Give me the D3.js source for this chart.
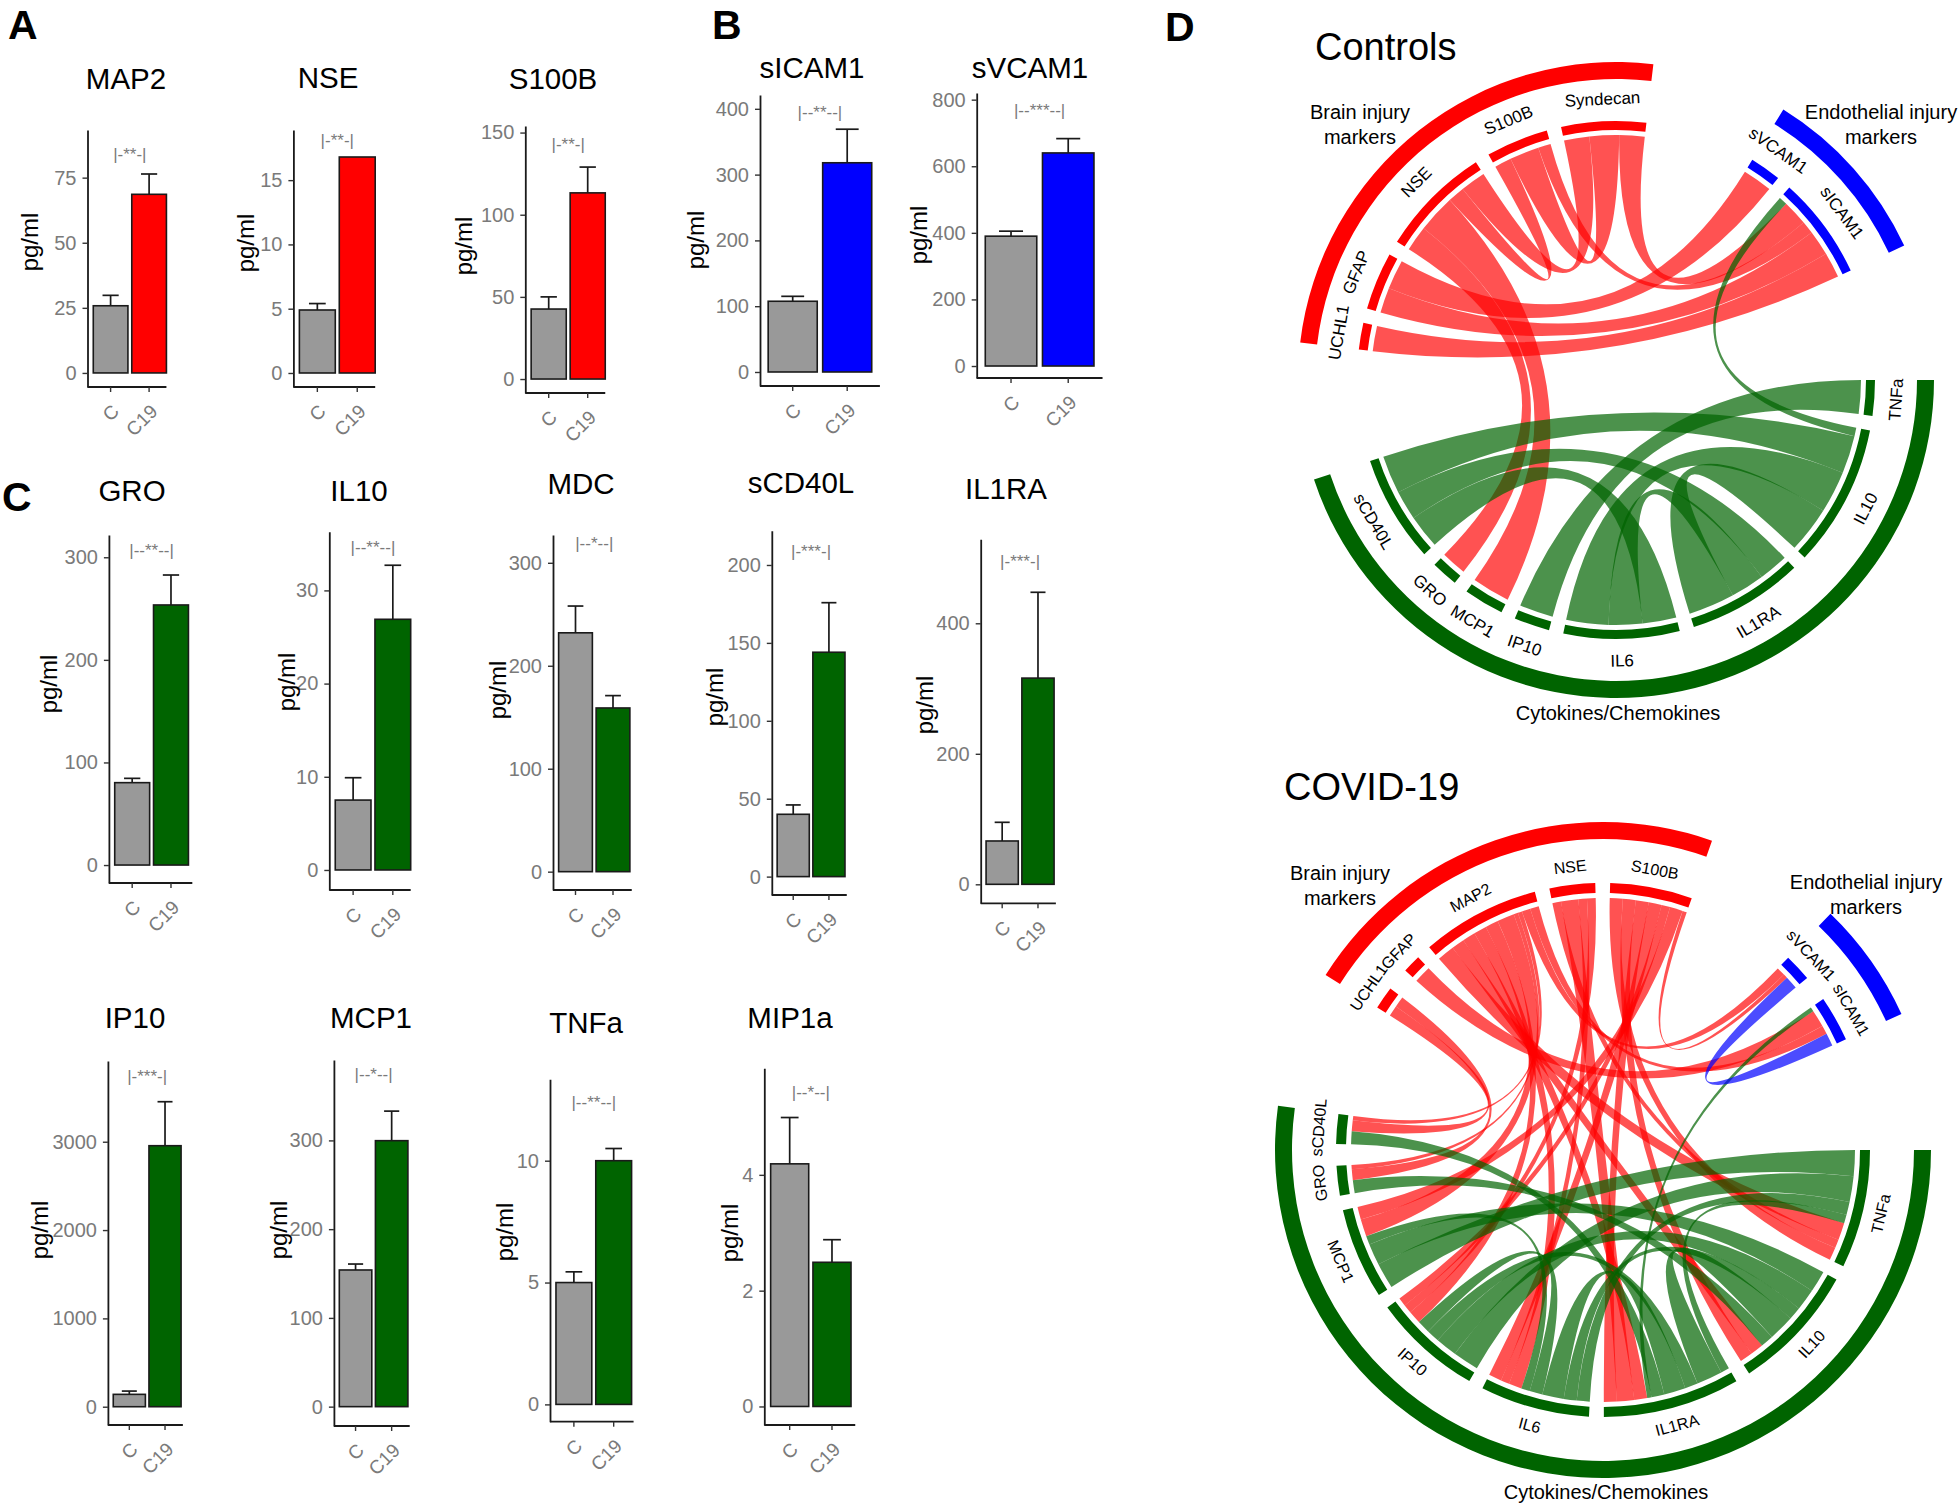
<!DOCTYPE html>
<html>
<head>
<meta charset="utf-8">
<script src="https://cdn.jsdelivr.net/npm/d3@7/dist/d3.min.js"></script>
<style>
  body { margin: 0; background: #fff; }
  svg { display: block; font-family: "Liberation Sans", Arial, Helvetica, sans-serif; }
</style>
</head>
<body>
<svg id="fig" width="1960" height="1507"></svg>
<script>
// ---------- panels A-C : mean pg/ml and top of the error bar ----------
const groups = ["C", "C19"];
const markers = ["MAP2", "NSE", "S100B", "sICAM1", "sVCAM1", "GRO", "IL10", "MDC",
  "sCD40L", "IL1RA", "IP10", "MCP1", "TNFa", "MIP1a"];
const markerType = ["brain", "brain", "brain", "endo", "endo", "cyto", "cyto", "cyto",
  "cyto", "cyto", "cyto", "cyto", "cyto", "cyto"];
const meanC = [25.8, 4.9, 42.6, 107.5, 390, 80.3, 7.5, 232, 40, 66.4, 140, 154, 5.0, 4.19];
const meanC19 = [68.6, 16.8, 113.3, 318, 640, 253.5, 26.9, 159, 144, 316, 2955, 299.7, 10.0, 2.49];
const errTopC = [29.8, 5.4, 50, 115, 405, 84.5, 9.9, 258, 46, 95, 177, 160.7, 5.44, 4.99];
const errTopC19 = [76.4, 16.8, 129, 369, 683, 282.7, 32.7, 171, 175.8, 447.5, 3453, 333, 10.5, 2.88];
const yTicks = [[0, 25, 50, 75], [0, 5, 10, 15], [0, 50, 100, 150], [0, 100, 200, 300, 400],
  [0, 200, 400, 600, 800], [0, 100, 200, 300], [0, 10, 20, 30], [0, 100, 200, 300],
  [0, 50, 100, 150, 200], [0, 200, 400], [0, 1000, 2000, 3000], [0, 100, 200, 300],
  [0, 5, 10], [0, 2, 4]];
const yLow = [-5.4, -1.09, -8.5, -21.3, -36, -17.5, -2.15, -17.8, -11.8, -29.1, -207, -21.8, -0.71, -0.32];
const yHigh = [93.3, 18.9, 154, 421, 820, 321.7, 36.3, 327, 222, 528.7, 3914, 390.6, 13.34, 5.84];
const sigText = ["|-**-|", "|-**-|", "|-**-|", "|--**--|", "|--***--|", "|--**--|", "|--**--|",
  "|--*--|", "|-***-|", "|-***-|", "|-***-|", "|--*--|", "|--**--|", "|--*--|"];
const sigAt = [83.7, 18.1, 143, 395, 768, 307, 34.6, 319, 208.6, 494.5, 3743, 374, 12.4, 5.42];

// ---------- panel D : chord diagrams ----------
const groupNames = ["Cytokines/Chemokines", "Brain injury markers", "Endothelial injury markers"];
const controlsSectors = [
  ["TNFa", "IL10", "IL1RA", "IL6", "IP10", "MCP1", "GRO", "sCD40L"],
  ["UCHL1", "GFAP", "NSE", "S100B", "Syndecan"],
  ["sVCAM1", "sICAM1"]
];
const controlsLinks = [
  ["IL10", "sICAM1", 2], ["sCD40L", "IL6", 8], ["sCD40L", "IL1RA", 7], ["sCD40L", "IL10", 9],
  ["IL6", "IL1RA", 8], ["IL10", "IL6", 10], ["IL10", "IL1RA", 11], ["TNFa", "IP10", 8],
  ["NSE", "GRO", 6], ["NSE", "MCP1", 9], ["NSE", "S100B", 4], ["NSE", "Syndecan", 6],
  ["S100B", "Syndecan", 7], ["Syndecan", "sICAM1", 6], ["S100B", "sICAM1", 3],
  ["GFAP", "sICAM1", 6], ["UCHL1", "sICAM1", 6], ["GFAP", "sVCAM1", 7]
];
const covidSectors = [
  ["TNFa", "IL10", "IL1RA", "IL6", "IP10", "MCP1", "GRO", "sCD40L"],
  ["UCHL1", "GFAP", "MAP2", "NSE", "S100B"],
  ["sVCAM1", "sICAM1"]
];
const covidLinks = [
  ["TNFa", "MCP1", 6], ["TNFa", "IP10", 6], ["TNFa", "IL6", 3], ["TNFa", "IL1RA", 2],
  ["IL10", "MCP1", 5], ["IL10", "IP10", 5], ["IL10", "IL6", 3], ["IL10", "IL1RA", 6],
  ["GRO", "IL10", 3], ["IL1RA", "IP10", 3], ["IL1RA", "IL6", 5],
  ["sCD40L", "IL1RA", 3], ["IL6", "IP10", 3], ["IL6", "MCP1", 2], ["IL1RA", "sICAM1", 1],
  ["UCHL1", "sCD40L", 2.5], ["UCHL1", "GRO", 2.5], ["GFAP", "sICAM1", 4],
  ["MAP2", "TNFa", 4], ["MAP2", "IL10", 3], ["MAP2", "IL1RA", 3], ["MAP2", "IL6", 3],
  ["MAP2", "IP10", 3], ["MAP2", "MCP1", 4], ["MAP2", "GRO", 1], ["MAP2", "sCD40L", 1],
  ["MAP2", "sVCAM1", 2], ["MAP2", "sICAM1", 2],
  ["NSE", "TNFa", 2], ["NSE", "IL1RA", 4], ["NSE", "IL6", 2], ["NSE", "IP10", 2],
  ["S100B", "TNFa", 3], ["S100B", "IL10", 3], ["S100B", "IL1RA", 3], ["S100B", "IL6", 3],
  ["S100B", "IP10", 2], ["S100B", "MCP1", 3], ["S100B", "sVCAM1", 1],
  ["sVCAM1", "sICAM1", 3]
];

// ---------- layout ----------
// axisX/top/bottom: plot box; unit: px per category; tx,ty: title; lx,ly: y-axis title
const panelLayout = [
  { axisX: 87.5, top: 130, bottom: 387, unit: 38.5, end: 2.05, tx: 126, ty: 78, lx: 29.5, ly: 242 },
  { axisX: 293.4, top: 130, bottom: 387, unit: 39.9, end: 2.05, tx: 328, ty: 77, lx: 245, ly: 243 },
  { axisX: 525.3, top: 126, bottom: 393, unit: 39, end: 2.05, tx: 553, ty: 78, lx: 463, ly: 246 },
  { axisX: 760, top: 95, bottom: 386, unit: 54.5, end: 2.2, tx: 812, ty: 67, lx: 695, ly: 240 },
  { axisX: 976.7, top: 93, bottom: 378, unit: 57.2, end: 2.2, tx: 1030, ty: 67, lx: 918.5, ly: 235 },
  { axisX: 108.9, top: 535, bottom: 883, unit: 38.8, end: 2.15, tx: 132, ty: 490, lx: 48, ly: 684 },
  { axisX: 329.3, top: 531.7, bottom: 890, unit: 39.7, end: 2.05, tx: 359, ty: 490, lx: 286.6, ly: 682 },
  { axisX: 553, top: 535, bottom: 890, unit: 37.5, end: 2.1, tx: 581, ty: 483, lx: 497, ly: 690 },
  { axisX: 771.8, top: 530.7, bottom: 895, unit: 35.7, end: 2.1, tx: 801, ty: 482, lx: 714.5, ly: 697 },
  { axisX: 980.7, top: 539.3, bottom: 903.3, unit: 35.8, end: 2.1, tx: 1006, ty: 488, lx: 924, ly: 705 },
  { axisX: 107.9, top: 1061, bottom: 1425, unit: 35.7, end: 2.1, tx: 135, ty: 1017, lx: 39, ly: 1230 },
  { axisX: 333.9, top: 1060, bottom: 1426, unit: 36.1, end: 2.1, tx: 371, ty: 1017, lx: 278.6, ly: 1230 },
  { axisX: 550, top: 1079.3, bottom: 1421.7, unit: 39.8, end: 2.1, tx: 586, ty: 1022, lx: 504.5, ly: 1232 },
  { axisX: 764.3, top: 1068.3, bottom: 1425, unit: 42.3, end: 2.15, tx: 790, ty: 1017, lx: 729.6, ly: 1233 }
];
const letterLayout = [
  { t: "A", x: 8, y: 39 }, { t: "B", x: 712, y: 39 }, { t: "C", x: 2, y: 511 }, { t: "D", x: 1165, y: 41 }
];
const fillFor = { brain: "#ff0000", endo: "#0000ff", cyto: "#006400" };
const trackColor = ["#006400", "#ff0000", "#0000ff"];
const linkColor = ["rgba(0,100,0,0.70)", "rgba(255,0,0,0.68)", "rgba(0,0,255,0.70)"];
const grey = "#7a7a7a";

const svg = d3.select("#fig");

svg.selectAll("text.letter").data(letterLayout).join("text")
  .attr("class", "letter")
  .attr("x", d => d.x).attr("y", d => d.y)
  .style("font-size", "41px").style("font-weight", "bold")
  .text(d => d.t);

// ---------- bar panels ----------
markers.forEach((name, i) => {
  const lay = panelLayout[i];
  const u = lay.unit;
  const g = svg.append("g");
  const x = d3.scaleBand().domain(groups)
    .range([lay.axisX, lay.axisX + 2.2 * u])
    .paddingInner(0.1).paddingOuter(0.15);
  const y = d3.scaleLinear().domain([yLow[i], yHigh[i]]).range([lay.bottom, lay.top]);
  const means = [meanC[i], meanC19[i]];
  const tops = [errTopC[i], errTopC19[i]];
  const cap = 0.42 * u;

  g.append("text")
    .attr("x", lay.tx).attr("y", lay.ty)
    .attr("text-anchor", "middle").attr("dominant-baseline", "central")
    .style("font-size", "29.5px")
    .text(name);

  // error bars (upper whisker only)
  groups.forEach((grp, j) => {
    if (tops[j] <= means[j]) return;
    const cx = x(grp) + x.bandwidth() / 2;
    g.append("line").attr("x1", cx).attr("x2", cx)
      .attr("y1", y(means[j])).attr("y2", y(tops[j]))
      .attr("stroke", "#1a1a1a").attr("stroke-width", 1.7);
    g.append("line").attr("x1", cx - cap / 2).attr("x2", cx + cap / 2)
      .attr("y1", y(tops[j])).attr("y2", y(tops[j]))
      .attr("stroke", "#1a1a1a").attr("stroke-width", 1.7);
  });

  g.selectAll("rect").data(groups).join("rect")
    .attr("x", d => x(d)).attr("width", x.bandwidth())
    .attr("y", (d, j) => y(means[j]))
    .attr("height", (d, j) => y(0) - y(means[j]))
    .attr("fill", (d, j) => j === 0 ? "#999999" : fillFor[markerType[i]])
    .attr("stroke", "#1a1a1a").attr("stroke-width", 1.6);

  // significance label
  g.append("text")
    .attr("x", (x("C") + x("C19") + x.bandwidth()) / 2)
    .attr("y", y(sigAt[i]))
    .attr("text-anchor", "middle").attr("dominant-baseline", "central")
    .style("font-size", "17px").attr("fill", grey)
    .text(sigText[i]);

  // y axis
  const ya = g.append("g").attr("transform", `translate(${lay.axisX},0)`)
    .call(d3.axisLeft(y).tickValues(yTicks[i]).tickFormat(d3.format("d"))
      .tickSize(5).tickSizeOuter(0).tickPadding(6));
  ya.select(".domain").attr("stroke", "#1a1a1a").attr("stroke-width", 1.8);
  ya.selectAll(".tick line").attr("stroke", "#333").attr("stroke-width", 1.4);
  ya.selectAll(".tick text").attr("fill", grey)
    .style("font-size", "20px").style("font-family", "inherit");
  g.append("text")
    .attr("transform", `translate(${lay.lx},${lay.ly}) rotate(-90)`)
    .attr("text-anchor", "middle").attr("dominant-baseline", "central")
    .style("font-size", "24px")
    .text("pg/ml");

  // x axis
  const xa = g.append("g").attr("transform", `translate(0,${lay.bottom})`)
    .call(d3.axisBottom(x).tickSize(5).tickSizeOuter(0));
  xa.select(".domain")
    .attr("d", `M${lay.axisX},0H${lay.axisX + lay.end * u}`)
    .attr("stroke", "#1a1a1a").attr("stroke-width", 1.8);
  xa.selectAll(".tick line").attr("stroke", "#333").attr("stroke-width", 1.4);
  xa.selectAll(".tick text")
    .attr("x", 0).attr("y", 0).attr("dy", null)
    .attr("transform", "translate(0,16) rotate(-45)")
    .attr("text-anchor", "end").attr("dominant-baseline", "hanging")
    .attr("fill", grey)
    .style("font-size", "19px").style("font-family", "inherit");
});

// ---------- chord diagrams ----------
function layoutChord(sectorGroups, links, cfg) {
  const names = sectorGroups.flat();
  const extra = cfg.extraGap || {};
  const total = {};
  names.forEach(n => { total[n] = 0; });
  links.forEach(([a, b, v]) => { total[a] += v; total[b] += v; });
  const nSmall = names.length - sectorGroups.length;
  const extraSum = d3.sum(Object.values(extra));
  const avail = 360 - nSmall * cfg.smallGap - sectorGroups.length * cfg.bigGap - extraSum;
  const deg = d3.scaleLinear().domain([0, d3.sum(names, n => total[n])]).range([0, avail]);
  const sec = {};
  let a = 0;
  sectorGroups.forEach((grp, gi) => {
    grp.forEach((n, k) => {
      if (k > 0) a += cfg.smallGap;
      a += extra[n] || 0;
      sec[n] = { name: n, group: gi, start: a, end: a + deg(total[n]), cursor: a };
      a = sec[n].end;
    });
    a += cfg.bigGap;
  });
  const ribbons = links.map(([s, t, v]) => {
    const w = deg(v), S = sec[s], T = sec[t];
    const r = {
      group: S.group,
      source: { start: S.cursor, end: S.cursor + w },
      target: { start: T.cursor, end: T.cursor + w }
    };
    S.cursor += w;
    T.cursor += w;
    return r;
  });
  const groupArcs = sectorGroups.map((grp, gi) => ({
    group: gi, start: sec[grp[0]].start, end: sec[grp[grp.length - 1]].end
  }));
  return { sectors: names.map(n => sec[n]), ribbons, groupArcs };
}

function drawChord(cfg, sectorGroups, links) {
  const L = layoutChord(sectorGroups, links, cfg);
  const rad = d => (d + 90) * Math.PI / 180;
  const g = svg.append("g").attr("transform", `translate(${cfg.cx},${cfg.cy})`);
  const ribbon = d3.ribbon().radius(cfg.linkR);
  const drawOrder = [1, 0, 2];
  const ribs = L.ribbons.slice().sort((p, q) => drawOrder.indexOf(p.group) - drawOrder.indexOf(q.group));

  g.selectAll("path.link").data(ribs).join("path")
    .attr("class", "link")
    .attr("d", d => ribbon({
      source: { startAngle: rad(d.source.start), endAngle: rad(d.source.end) },
      target: { startAngle: rad(d.target.start), endAngle: rad(d.target.end) }
    }))
    .attr("fill", d => linkColor[d.group]);

  const inner = d3.arc().innerRadius(cfg.inner[0]).outerRadius(cfg.inner[1]);
  g.selectAll("path.sector").data(L.sectors).join("path")
    .attr("class", "sector")
    .attr("d", d => inner({ startAngle: rad(d.start), endAngle: rad(d.end) }))
    .attr("fill", d => trackColor[d.group]);

  const outer = d3.arc().innerRadius(cfg.outer[0]).outerRadius(cfg.outer[1]);
  g.selectAll("path.grp").data(L.groupArcs).join("path")
    .attr("class", "grp")
    .attr("d", d => outer({ startAngle: rad(d.start), endAngle: rad(d.end) }))
    .attr("fill", d => trackColor[d.group]);

  g.selectAll("text.sl").data(L.sectors).join("text")
    .attr("class", "sl")
    .attr("transform", d => {
      const m = (d.start + d.end) / 2;
      const t = m * Math.PI / 180;
      const rot = m < 170 ? m - 90 : m + 90;
      return `translate(${cfg.labelR * Math.cos(t)},${cfg.labelR * Math.sin(t)}) rotate(${rot})`;
    })
    .attr("text-anchor", "middle").attr("dominant-baseline", "central")
    .style("font-size", cfg.labelSize)
    .text(d => d.name);

  svg.append("text")
    .attr("x", cfg.titleX).attr("y", cfg.titleY)
    .style("font-size", "38px")
    .text(cfg.title);

  // group names, broken the way the figure breaks them
  const lines = [["Cytokines/Chemokines"], ["Brain injury", "markers"], ["Endothelial injury", "markers"]];
  groupNames.forEach((gn, gi) => {
    const pos = cfg.groupLabel[gi];
    lines[gi].forEach((ln, k) => {
      svg.append("text")
        .attr("x", pos[0]).attr("y", pos[1] + k * 25)
        .attr("text-anchor", "middle").attr("dominant-baseline", "central")
        .style("font-size", "20px")
        .text(ln);
    });
  });
}

drawChord({
  cx: 1616, cy: 380, linkR: 245, inner: [250, 259], outer: [301, 318], labelR: 281, labelSize: "17px",
  smallGap: 3.25, bigGap: 25, title: "Controls", titleX: 1315, titleY: 60,
  groupLabel: [[1618, 713], [1360, 112], [1881, 112]]
}, controlsSectors, controlsLinks);

drawChord({
  cx: 1603, cy: 1150, linkR: 252, inner: [257, 267], outer: [311, 328], labelR: 285, labelSize: "16px",
  smallGap: 3.2, bigGap: 24.5, extraGap: { sCD40L: 1.5, GFAP: 1.8, sICAM1: 2.5 },
  title: "COVID-19", titleX: 1284, titleY: 800,
  groupLabel: [[1606, 1492], [1340, 873], [1866, 882]]
}, covidSectors, covidLinks);
</script>
</body>
</html>
